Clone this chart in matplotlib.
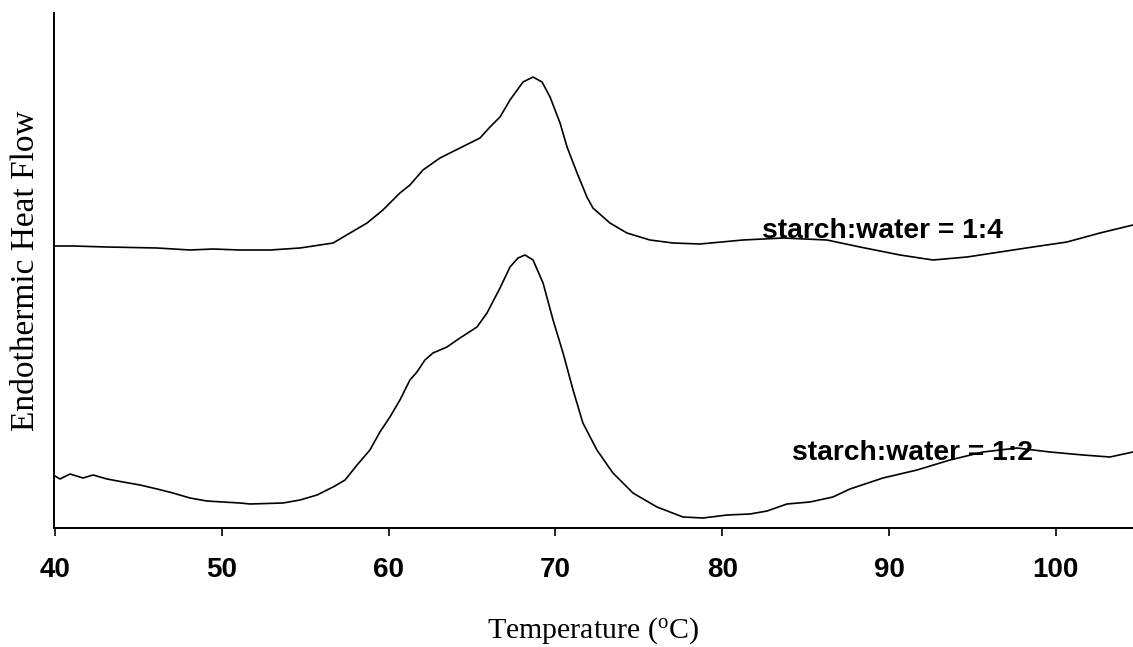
import matplotlib
matplotlib.use("Agg")
import matplotlib.pyplot as plt

# ---- data (temperature in deg C, heat flow in arbitrary units) ----
temp_14 = [40.0, 41.08, 43.12, 46.12, 48.09, 49.47, 51.09, 52.89, 54.69, 56.67, 57.69, 58.71,
           59.66, 60.68, 61.28, 62.06, 63.08, 64.28, 65.48, 66.08, 66.68, 67.28, 68.06, 68.66,
           69.20, 69.68, 70.28, 70.70, 71.30, 71.89, 72.25, 73.27, 74.29, 75.67, 77.05, 78.67,
           81.25, 83.65, 86.28, 88.26, 90.66, 92.64, 94.68, 96.65, 98.63, 100.67, 102.65, 104.63]
flow_14 = [2.82, 2.82, 2.81, 2.80, 2.78, 2.79, 2.78, 2.78, 2.80, 2.85, 2.95, 3.05,
           3.18, 3.35, 3.43, 3.58, 3.70, 3.80, 3.90, 4.01, 4.11, 4.28, 4.46, 4.51,
           4.46, 4.31, 4.05, 3.81, 3.55, 3.31, 3.20, 3.05, 2.95, 2.88, 2.85, 2.84,
           2.88, 2.90, 2.88, 2.81, 2.73, 2.68, 2.71, 2.76, 2.81, 2.86, 2.95, 3.03]

temp_12 = [40.0, 40.30, 40.90, 41.68, 42.28, 43.12, 44.08, 45.10, 46.12, 47.07, 48.09, 49.11,
           50.07, 51.09, 51.69, 53.67, 54.69, 55.71, 56.67, 57.39, 58.11, 58.88, 59.48, 60.08,
           60.68, 61.28, 61.70, 62.18, 62.66, 63.50, 64.28, 65.30, 65.90, 66.68, 67.28, 67.76,
           68.18, 68.66, 69.26, 69.86, 70.46, 71.06, 71.65, 72.49, 73.45, 74.65, 76.09, 77.65,
           78.85, 80.29, 81.67, 82.69, 83.88, 85.26, 86.64, 87.66, 89.64, 91.68, 93.66, 95.64,
           97.67, 99.65, 101.63, 103.25, 104.63]
flow_12 = [0.52, 0.49, 0.54, 0.50, 0.53, 0.49, 0.46, 0.43, 0.39, 0.35, 0.30, 0.27,
           0.26, 0.25, 0.24, 0.25, 0.28, 0.33, 0.41, 0.48, 0.63, 0.78, 0.96, 1.11,
           1.28, 1.48, 1.56, 1.68, 1.75, 1.81, 1.90, 2.01, 2.15, 2.40, 2.61, 2.70,
           2.73, 2.68, 2.45, 2.08, 1.75, 1.38, 1.05, 0.78, 0.55, 0.35, 0.21, 0.11,
           0.10, 0.13, 0.14, 0.17, 0.24, 0.26, 0.31, 0.39, 0.50, 0.58, 0.68, 0.76,
           0.80, 0.76, 0.73, 0.71, 0.76]

x_ticks = [40, 50, 60, 70, 80, 90, 100]
label_14 = "starch:water = 1:4"
label_12 = "starch:water = 1:2"
label_14_pos = (82.39, 2.90)
label_12_pos = (84.18, 0.68)

# ---- figure ----
fig = plt.figure(figsize=(11.33, 6.47), dpi=100)
ax = fig.add_axes([54 / 1133, 1 - 528 / 647, 1 - 54 / 1133, (528 - 13) / 647])

ax.plot(temp_14, flow_14, color="black", lw=1.2)
ax.plot(temp_12, flow_12, color="black", lw=1.2)

ax.set_xlim(39.94, 104.63)
ax.set_ylim(0, 5.15)

for s in ["top", "right"]:
    ax.spines[s].set_visible(False)
for s in ["left", "bottom"]:
    ax.spines[s].set_linewidth(1.4)
    ax.spines[s].set_color("black")

ax.set_xticks(x_ticks)
ax.set_xticklabels([str(t) for t in x_ticks], fontfamily="Liberation Sans",
                   fontweight="bold", fontsize=20)
ax.tick_params(axis="x", direction="out", length=6, width=1.2, pad=15, colors="black")
ax.set_yticks([])

ax.set_xlabel(r"Temperature ($\mathregular{^{o}}$C)", fontfamily="Liberation Serif",
              fontsize=21.5, labelpad=23)
ax.set_ylabel("Endothermic Heat Flow", fontfamily="Liberation Serif", fontsize=24,
              labelpad=9)

ax.text(label_14_pos[0], label_14_pos[1], label_14, fontfamily="Liberation Sans",
        fontweight="bold", fontsize=20.3, ha="left", va="baseline")
ax.text(label_12_pos[0], label_12_pos[1], label_12, fontfamily="Liberation Sans",
        fontweight="bold", fontsize=20.3, ha="left", va="baseline")

fig.savefig("out.png", dpi=100)
